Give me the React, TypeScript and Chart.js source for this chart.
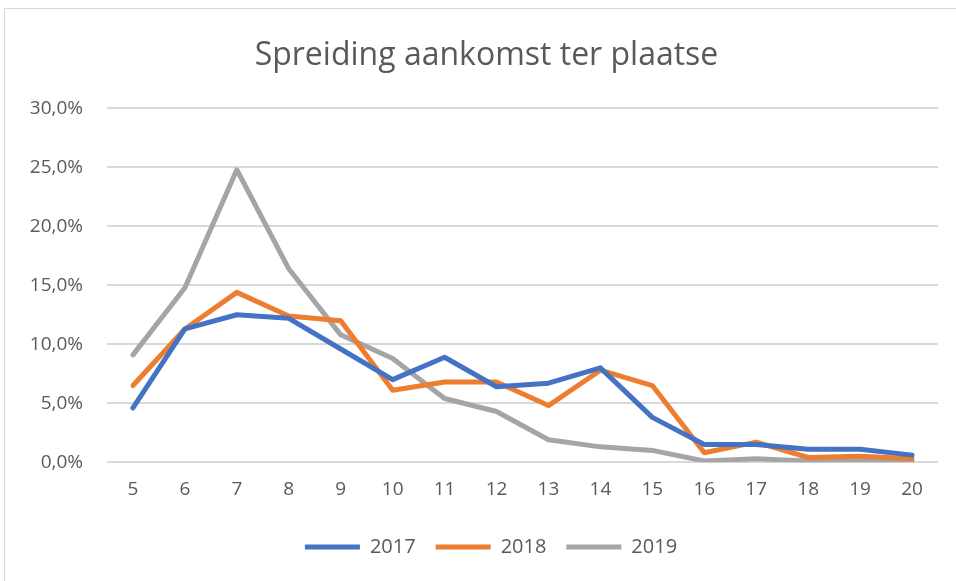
import React, { useEffect, useRef } from "react";
import { Chart, registerables } from "chart.js";

Chart.register(...registerables);

const categories = ["5", "6", "7", "8", "9", "10", "11", "12", "13", "14", "15", "16", "17", "18", "19", "20"];
const series2017 = [4.6, 11.3, 12.5, 12.2, 9.6, 7.0, 8.9, 6.4, 6.7, 8.0, 3.8, 1.5, 1.5, 1.1, 1.1, 0.6];
const series2018 = [6.5, 11.3, 14.4, 12.4, 12.0, 6.1, 6.8, 6.8, 4.8, 7.8, 6.5, 0.8, 1.7, 0.4, 0.5, 0.3];
const series2019 = [9.1, 14.8, 24.8, 16.4, 10.8, 8.8, 5.4, 4.3, 1.9, 1.3, 1.0, 0.1, 0.3, 0.1, 0.1, 0.1];
const seriesNames = ["2017", "2018", "2019"];
const yTicks = [0, 5, 10, 15, 20, 25, 30];

const FONT = "'Open Sans', sans-serif";
const TEXT = "#595959";

const centerShift = {
  id: "centerShift",
  afterLayout(chart: any) {
    const shift = (box: any, target: number) => {
      if (!box) return;
      const dx = target - (box.left + box.right) / 2;
      box.left += dx;
      box.right += dx;
    };
    shift(chart.titleBlock, 486.5);
    shift(chart.legend, 491);
  },
};

export default function App() {
  const ref = useRef<HTMLCanvasElement | null>(null);
  useEffect(() => {
    if (!ref.current) return;
    const colors = ["#4472C4", "#ED7D31", "#A5A5A5"];
    const data = [series2017, series2018, series2019];
    const chart = new Chart(ref.current, {
      type: "line",
      data: {
        labels: categories,
        datasets: seriesNames.map((n, i) => ({
          label: n,
          data: data[i],
          borderColor: colors[i],
          backgroundColor: colors[i],
          borderWidth: 5,
          pointRadius: 0,
          tension: 0,
          borderJoinStyle: "round" as const,
          borderCapStyle: "round" as const,
        })),
      },
      plugins: [centerShift],
      options: {
        animation: false,
        responsive: false,
        layout: { padding: { left: 0, right: 18, top: 0, bottom: 14 } },
        plugins: {
          title: {
            display: true,
            text: "Spreiding aankomst ter plaatse",
            color: TEXT,
            font: { family: FONT, size: 32, weight: "normal" },
            padding: { top: 37, bottom: 33 },
          },
          legend: {
            position: "bottom",
            labels: {
              color: TEXT,
              font: { family: FONT, size: 20 },
              boxWidth: 55,
              boxHeight: 5,
              padding: 20,
              generateLabels: (c: any) =>
                Chart.defaults.plugins.legend.labels.generateLabels(c).map((l: any) => ({
                  ...l,
                  lineWidth: 0,
                  fillStyle: l.strokeStyle,
                })),
            },
          },
          tooltip: { enabled: false },
        },
        scales: {
          x: {
            offset: true,
            grid: { display: false, drawTicks: false },
            border: { display: false },
            ticks: { color: TEXT, font: { family: FONT, size: 19 }, padding: 16 },
          },
          y: {
            min: 0,
            max: 30,
            afterFit: (s: any) => { s.width = 107; },
            afterBuildTicks: (s: any) => { s.ticks = yTicks.map((v) => ({ value: v })); },
            grid: { color: "#d9d9d9", lineWidth: 2, drawTicks: false },
            border: { display: false },
            ticks: {
              color: TEXT,
              font: { family: FONT, size: 19 },
              padding: 24,
              callback: (v: any) => Number(v).toFixed(1).replace(".", ",") + "%",
            },
          },
        },
      },
    });
    return () => chart.destroy();
  }, []);
  return (
    <div style={{ position: "absolute", left: 0, top: 0, width: 956, height: 581, background: "#fff", overflow: "hidden" }}>
      <div style={{ position: "absolute", left: 4, top: 8, width: 970, height: 600, border: "1px solid #d9d9d9", boxSizing: "border-box" }} />
      <canvas ref={ref} width={956} height={581} style={{ position: "absolute", left: 0, top: 0 }} />
    </div>
  );
}
